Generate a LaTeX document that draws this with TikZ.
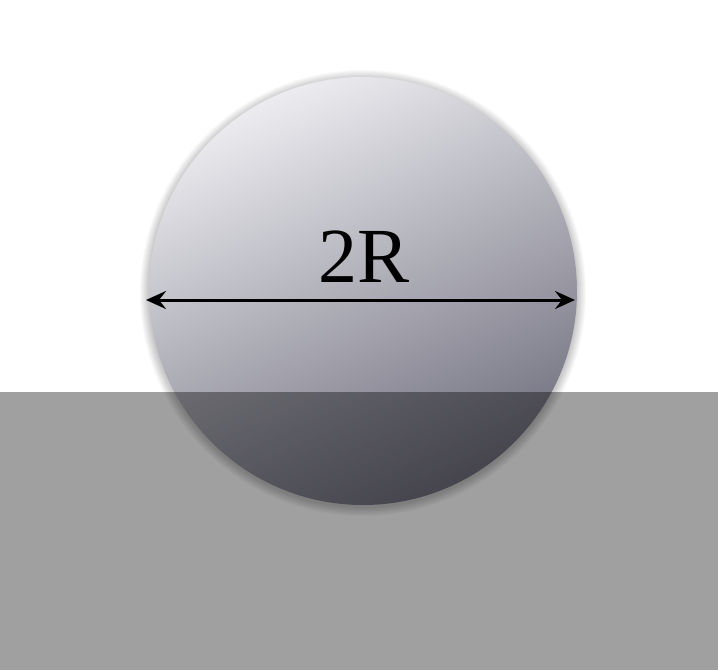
\documentclass[tikz,border=0pt]{standalone}
\usepackage{fontspec}
\setmainfont{Liberation Serif}
\usetikzlibrary{arrows.meta}
\definecolor{balllight}{RGB}{236,236,240}
\definecolor{balldark}{RGB}{112,111,126}
\tikzset{
  dimarrow/.style={line width=3pt, {Stealth[length=20pt,width=18pt,inset=7pt]}-{Stealth[length=20pt,width=18pt,inset=7pt]}},
  ground/.style={fill=black, fill opacity=0.373, draw=none}
}
\begin{document}
\begin{tikzpicture}[x=1pt,y=-1pt]
\useasboundingbox (0,0) rectangle (718,670);
\fill[white] (0,0) rectangle (718,670);
% soft shadow
\foreach \i in {1,...,9}{
  \fill[black, opacity=0.022] (363,293) circle ({214+10-\i});
}
% ball
\shade[top color=balllight, bottom color=balldark, shading angle=25] (363,291) circle (214);
\coordinate (cen) at (363,291);
\coordinate (aL) at (146,300);
\coordinate (aR) at (575,300);
\draw[dimarrow] (aL) -- (aR);
\node[anchor=base, inner sep=0pt, font=\fontsize{78}{80}\selectfont] (lbl) at (364,282) {2R};
% ground
\fill[ground] (0,392) rectangle (718,670);
\end{tikzpicture}
\end{document}
